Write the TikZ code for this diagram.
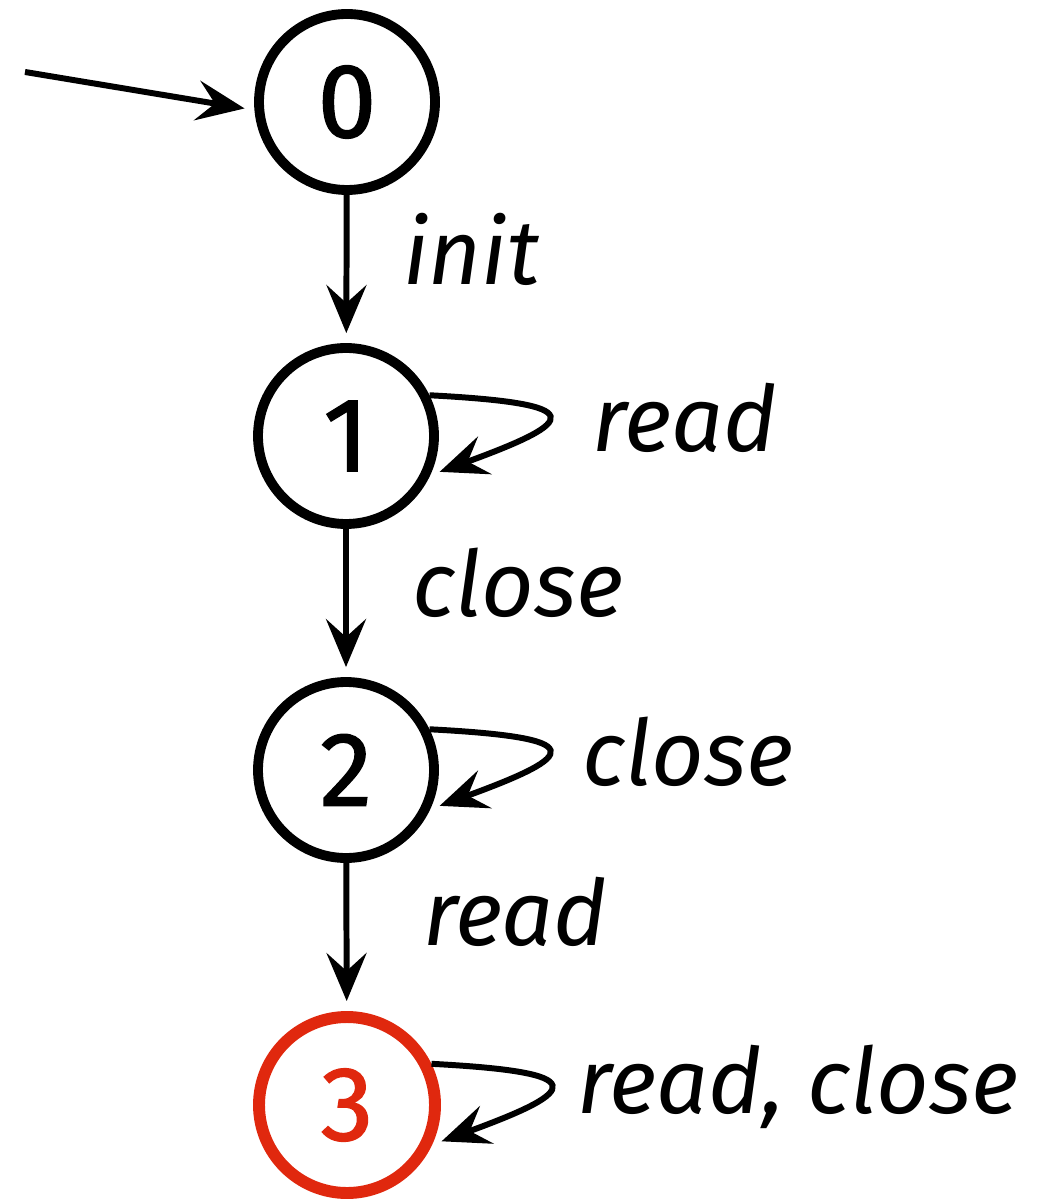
\documentclass[tikz,border=0pt]{standalone}
\usepackage{fontspec}
\setmainfont{Fira Sans}
\newfontfamily\statefont[FakeBold = 1.3]{Fira Sans}
\usetikzlibrary{
    arrows.meta,
    positioning,
    decorations.pathmorphing
}
\definecolor{trapred}{RGB}{224,40,14}
\tikzset {
    state/.style = {
        circle, draw, line width = 2.8pt,
        minimum size = 1.76cm, inner sep = 0pt,
        font = \statefont\fontsize{30}{34}\selectfont,
        postaction = {
            draw, decorate,
            decoration = {random steps, segment length = 2pt, amplitude = 0.7pt},
            line width = 0.7pt
        }
    },
    trap state/.style = {state, draw = trapred, text = trapred, line width = 3.4pt},
    %
    trans/.style = {
        line width = 1.7pt, shorten > = 1mm,
        -{Stealth[length = 4.8mm, width = 4mm, inset = 1.8mm]}
    },
    lbl/.style = {font = \fontsize{26}{30}\selectfont\itshape, inner sep = 1pt}
}

\begin{document}
\begin{tikzpicture}
    \useasboundingbox (0, 0) rectangle (10.44, -11.99);
    \node (s0) [state] at (3.47, -1.02) {0};
    \node (s1) [state] at (3.46, -4.36) {1};
    \node (s2) [state] at (3.46, -7.70) {2};
    \node (s3) [trap state] at (3.47, -11.05) {3};
    \coordinate (start) at (0.25, -0.72);
    \draw [trans] (start) -- (s0.185);
    \draw [trans] (s0) -- node [lbl, right = 5mm, yshift = 2mm] {init} (s1);
    \draw [trans] (s1) -- node [lbl, right = 6mm, yshift = 2mm] {close} (s2);
    \draw [trans] (s2) -- node [lbl, right = 7mm, yshift = 2.5mm] {read} (s3);
    % self loops
    \draw [trans] (s1.26) .. controls +(-3:1.6) and +(20:1.6) .. node [lbl, right = 4mm] {read} (s1.-25);
    \draw [trans] (s2.26) .. controls +(-3:1.6) and +(20:1.6) .. node [lbl, right = 3mm] {close} (s2.-25);
    \draw [trans] (s3.26) .. controls +(-3:1.6) and +(20:1.6) .. node [lbl, right = 2.3mm] {read, close} (s3.-25);
\end{tikzpicture}
\end{document}
